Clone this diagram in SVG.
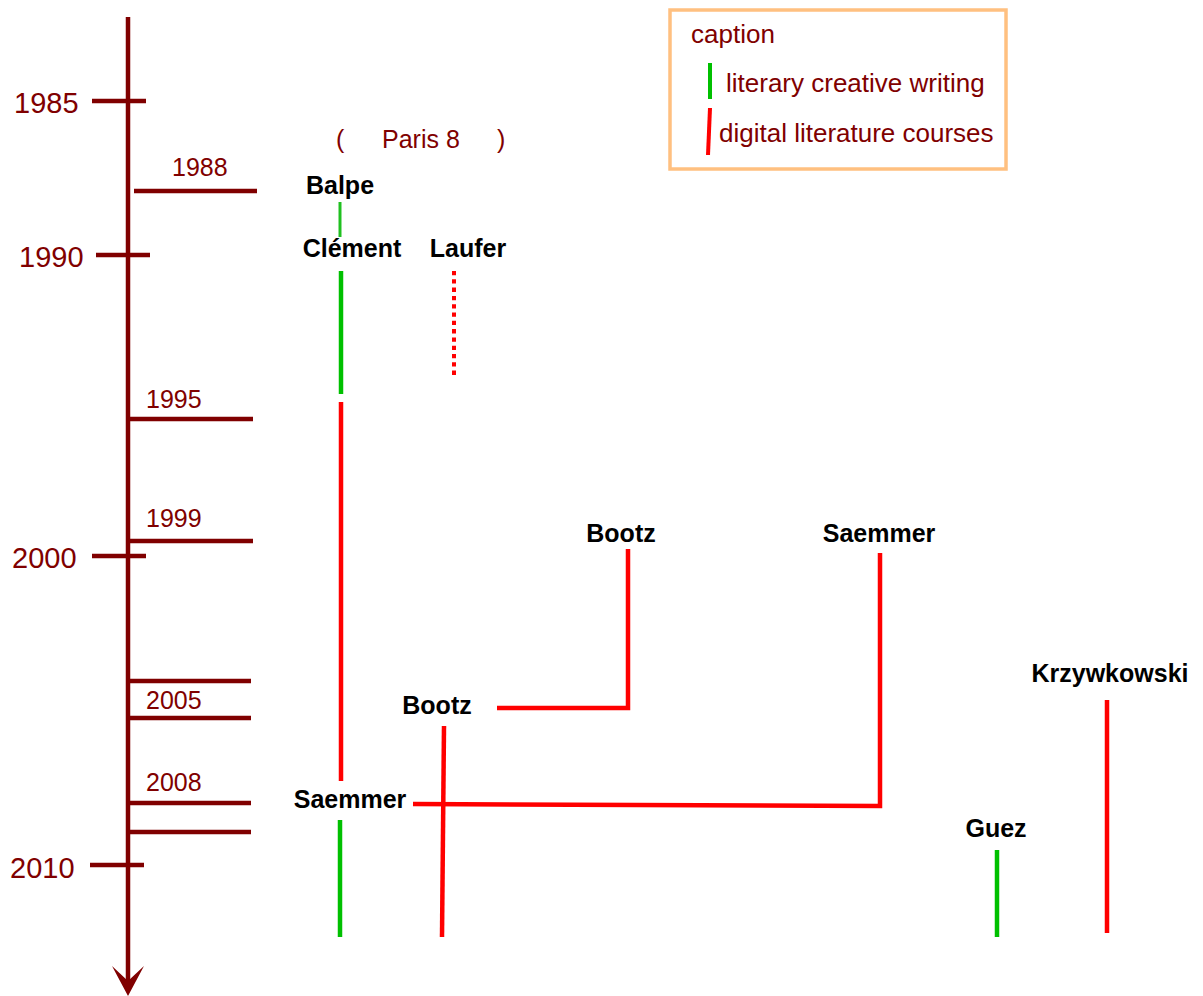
<svg xmlns="http://www.w3.org/2000/svg" width="1203" height="996" viewBox="0 0 1203 996">
<style>
.ax{stroke:#800000;stroke-width:4.5;fill:none}
.yr{font-family:"Liberation Sans",Arial,sans-serif;font-size:29px;fill:#800000}
.yr2{font-family:"Liberation Sans",Arial,sans-serif;font-size:25px;fill:#800000}
.lg{font-family:"Liberation Sans",Arial,sans-serif;font-size:26px;fill:#800000}
.nm{font-family:"Liberation Sans",Arial,sans-serif;font-size:25px;font-weight:bold;fill:#000}
.g{stroke:#00c000;stroke-width:4.5;fill:none}
.r{stroke:#ff0000;stroke-width:4.5;fill:none}
</style>
<rect width="1203" height="996" fill="#fff"/>
<g id="timeline">
<line class="ax" x1="128" y1="17" x2="128" y2="985"/>
<polygon points="112,966 128,981 144,966 128,996" fill="#800000"/>
<line class="ax" x1="92" y1="101" x2="146" y2="101"/>
<line class="ax" x1="96" y1="255" x2="150" y2="255"/>
<line class="ax" x1="92" y1="556" x2="146" y2="556"/>
<line class="ax" x1="90" y1="865" x2="144" y2="865"/>
<line class="ax" x1="134" y1="191" x2="257" y2="191"/>
<line class="ax" x1="128" y1="419" x2="253" y2="419"/>
<line class="ax" x1="128" y1="541" x2="253" y2="541"/>
<line class="ax" x1="128" y1="681" x2="251" y2="681"/>
<line class="ax" x1="128" y1="718" x2="251" y2="718"/>
<line class="ax" x1="128" y1="803" x2="251" y2="803"/>
<line class="ax" x1="128" y1="832" x2="251" y2="832"/>
<text class="yr" x="14" y="113">1985</text>
<text class="yr" x="19" y="267">1990</text>
<text class="yr" x="12" y="568">2000</text>
<text class="yr" x="10" y="878">2010</text>
<text class="yr2" x="172" y="176">1988</text>
<text class="yr2" x="146" y="408">1995</text>
<text class="yr2" x="146" y="527">1999</text>
<text class="yr2" x="146" y="709">2005</text>
<text class="yr2" x="146" y="791">2008</text>
</g>
<g id="paris8">
<text class="yr2" x="336" y="148">(</text>
<text class="yr2" x="382" y="148">Paris 8</text>
<text class="yr2" x="497" y="148">)</text>
</g>
<g id="legend">
<rect x="670" y="10" width="336" height="159" fill="none" stroke="#ffc080" stroke-width="3.5"/>
<text class="lg" x="691" y="43">caption</text>
<line x1="710" y1="63" x2="710" y2="99" stroke="#00c000" stroke-width="4"/>
<text class="lg" x="726" y="92">literary creative writing</text>
<line x1="710" y1="108" x2="708" y2="155" stroke="#ff0000" stroke-width="4"/>
<text class="lg" x="719" y="142">digital literature courses</text>
</g>
<g id="balpe"><text class="nm" x="340" y="194" text-anchor="middle">Balpe</text></g>
<g id="clement"><text class="nm" x="352" y="257" text-anchor="middle">Clément</text></g>
<g id="laufer"><text class="nm" x="468" y="257" text-anchor="middle">Laufer</text></g>
<g id="bootz-top"><text class="nm" x="621" y="542" text-anchor="middle">Bootz</text></g>
<g id="saemmer-top"><text class="nm" x="879" y="542" text-anchor="middle">Saemmer</text></g>
<g id="bootz-mid"><text class="nm" x="437" y="714" text-anchor="middle">Bootz</text></g>
<g id="saemmer-mid"><text class="nm" x="350" y="808" text-anchor="middle">Saemmer</text></g>
<g id="krzywkowski"><text class="nm" x="1110" y="682" text-anchor="middle">Krzywkowski</text></g>
<g id="guez"><text class="nm" x="996" y="837" text-anchor="middle">Guez</text></g>
<g id="connectors">
<line x1="340" y1="202" x2="340" y2="237" stroke="#20c020" stroke-width="3"/>
<line class="g" x1="341" y1="271" x2="341" y2="394"/>
<line x1="454" y1="271" x2="454" y2="376" stroke="#ff0000" stroke-width="4" stroke-dasharray="4.3 4"/>
<line class="r" x1="341" y1="402" x2="341" y2="781"/>
<line class="g" x1="340" y1="820" x2="340" y2="937"/>
<line class="r" x1="444" y1="726" x2="442" y2="937"/>
<polyline class="r" points="497,708 628,708 628,549"/>
<polyline class="r" points="413,804 880,806 880,553"/>
<line class="g" x1="997" y1="850" x2="997" y2="937"/>
<line class="r" x1="1107" y1="700" x2="1107" y2="933"/>
</g>
</svg>
